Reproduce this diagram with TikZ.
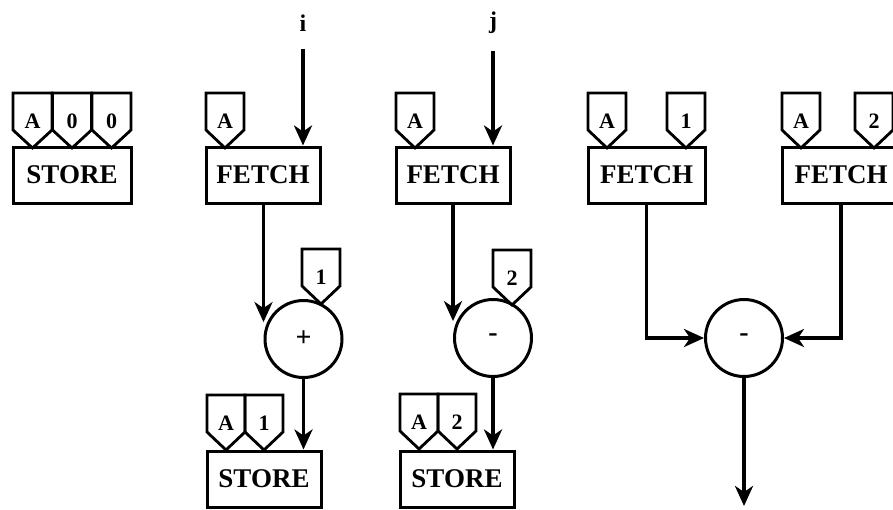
\documentclass[tikz,border=0pt]{standalone}
\usepackage{fontspec}
\setmainfont{Liberation Serif}
\usepackage{tikz}
\usetikzlibrary{arrows.meta, positioning, calc}
\tikzstyle{instr} = [draw, line width=3pt, minimum width=114pt, minimum height=56pt, inner sep=0pt, font=\fontsize{27}{29}\selectfont\bfseries]
\tikzstyle{tokenline} = [line width=2.8pt]
\tikzstyle{tokentext} = [inner sep=0pt, font=\fontsize{22}{24}\selectfont\bfseries]
\tikzstyle{oper} = [circle, draw, line width=3pt, minimum size=77pt, inner sep=0pt, font=\fontsize{28}{30}\selectfont\bfseries]
\tikzstyle{flow} = [-{Stealth[length=20pt, width=18pt, inset=6pt]}, line width=3.4pt]
\tikzstyle{index} = [font=\fontsize{24}{26}\selectfont\bfseries]
% token: [width] name, centre x, top y, text
\newcommand{\tokenbox}[5][38]{%
    \draw[tokenline] ($(#3,#4)+(-#1/2,0)$) -- ++(#1,0) -- ++(0,37) -- ++(-#1/2,18) -- ++(-#1/2,-18) -- cycle;
    \node[tokentext] (#2) at ($(#3,#4)+(0,28)$) {#5};}

\begin{document}
\begin{tikzpicture}[x=1pt, y=-1pt]
    \useasboundingbox (0,0) rectangle (893,509);

    % Store without inputs
    \node[instr, minimum width=118pt] (s0) at (72,175) {STORE};
    \tokenbox[39]{s0a}{32.5}{93}{A}
    \tokenbox[39]{s0b}{72}{93}{0}
    \tokenbox[39]{s0c}{111.5}{93}{0}

    % A[i] := A[1] + 1
    \node[index] (i) at (303,23) {i};
    \node[instr] (f1) at (263,175) {FETCH};
    \tokenbox{f1a}{225}{93}{A}
    \node[oper] (p1) at (303.5,339) {+};
    \tokenbox{c1}{321}{249}{1}
    \node[instr] (s1) at (264,479) {STORE};
    \tokenbox{s1a}{226}{395}{A}
    \tokenbox{s1b}{264}{395}{1}

    % A[j] := A[2] - 2
    \node[index] (j) at (493,23) {j};
    \node[instr] (f2) at (453,175) {FETCH};
    \tokenbox{f2a}{415}{93}{A}
    \node[oper] (m1) at (493,338) {-};
    \tokenbox{c2}{512}{250}{2}
    \node[instr] (s2) at (457,479) {STORE};
    \tokenbox{s2a}{419}{394}{A}
    \tokenbox{s2b}{457}{394}{2}

    % A[1] - A[2]
    \node[instr, minimum width=117pt] (f3) at (646.5,175) {FETCH};
    \tokenbox{f3a}{607}{93}{A}
    \tokenbox{f3b}{686}{93}{1}
    \node[instr, minimum width=118pt] (f4) at (841,175) {FETCH};
    \tokenbox{f4a}{801}{93}{A}
    \tokenbox{f4b}{874}{93}{2}
    \node[oper] (m2) at (744,338) {-};
    \coordinate (out) at (744,506);

    % Arcs
    \draw[flow, shorten <=14pt] (i.south) -- (i.south |- f1.north);
    \draw[flow, shorten <=14pt] (j.south) -- (j.south |- f2.north);
    \draw[flow] (f1.south -| p1.west) -- (p1.west |- p1.155);
    \draw[flow] (f2.south -| m1.west) -- (m1.west |- m1.155);
    \draw[flow] (p1.south) -- (p1.south |- s1.north);
    \draw[flow] (m1.south) -- (m1.south |- s2.north);
    \draw[flow] (f3.south) |- (m2.west);
    \draw[flow] (f4.south) |- (m2.east);
    \draw[flow] (m2.south) -- (out);
\end{tikzpicture}
\end{document}
